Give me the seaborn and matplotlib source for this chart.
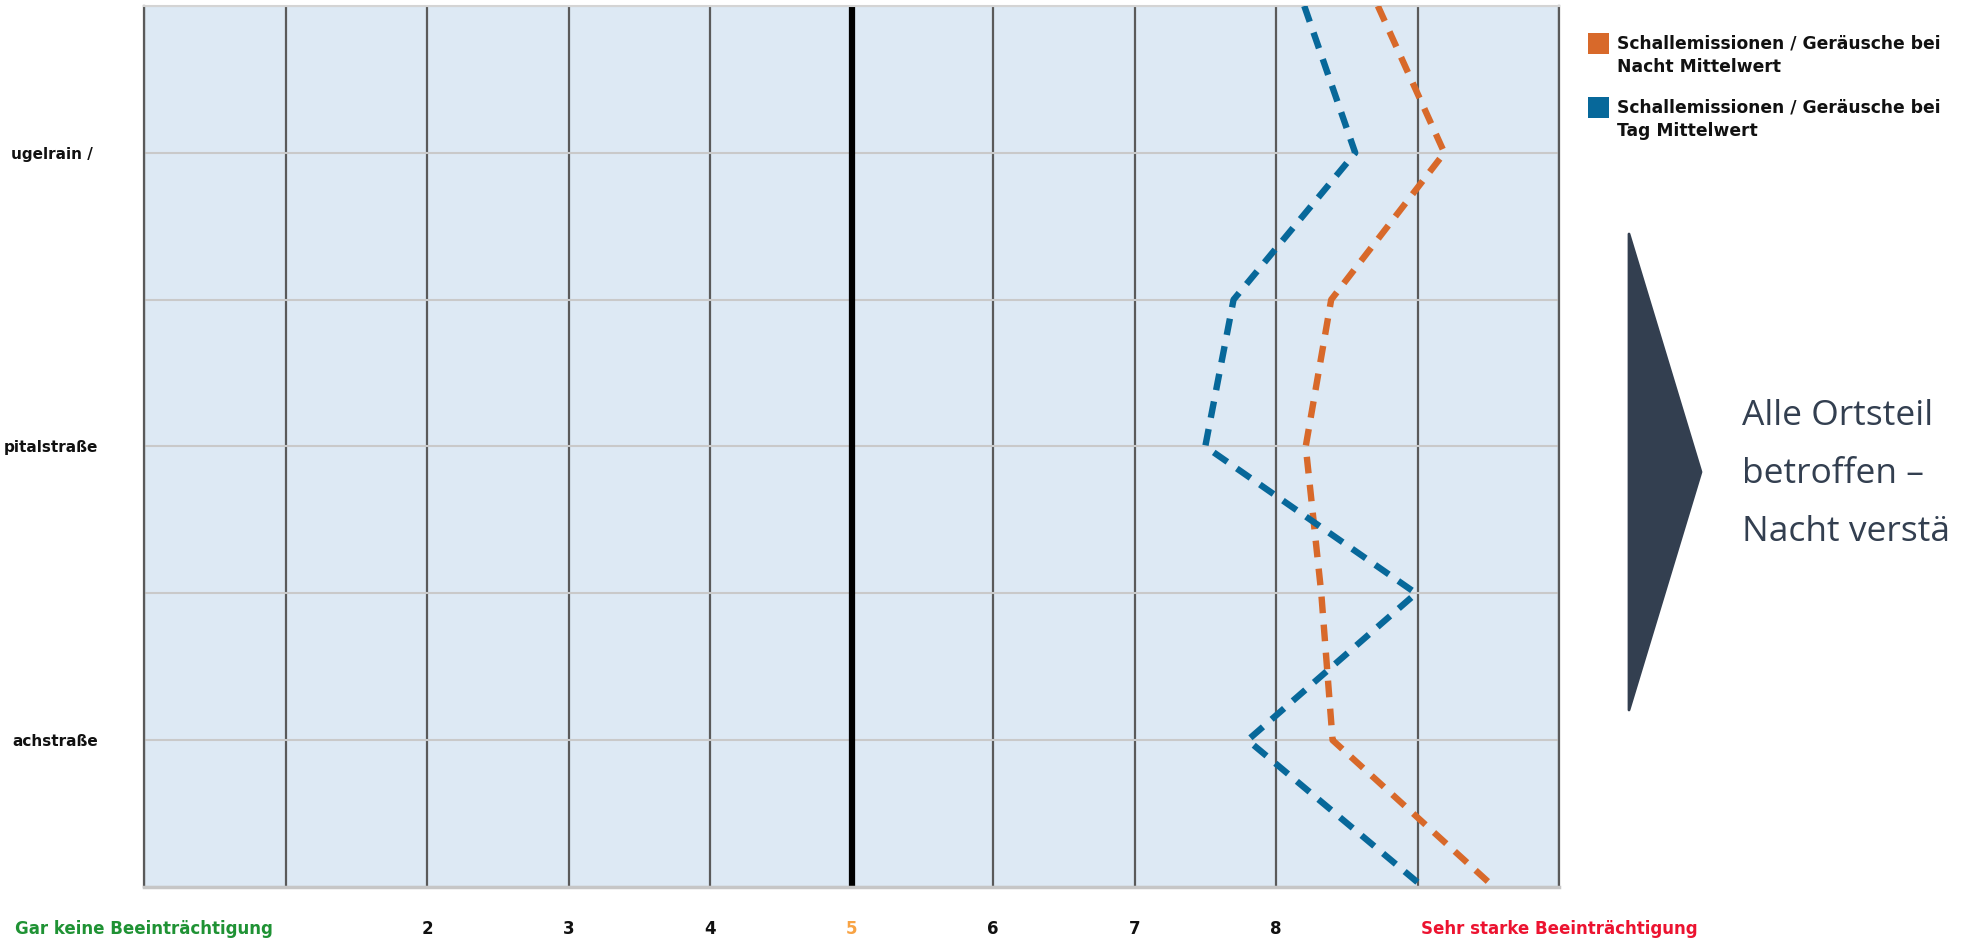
import matplotlib
matplotlib.use("Agg")
import matplotlib.pyplot as plt
import seaborn as sns
import pandas as pd
from matplotlib.patches import Polygon, Rectangle

# ---- data ----
categories = ["", "ugelrain / ", "", "pitalstraße", "", "achstraße", ""]
nacht_values = [8.72, 9.19, 8.39, 8.21, 8.32, 8.40, 9.54]
tag_values = [8.20, 8.56, 7.70, 7.50, 8.99, 7.80, 9.04]
series_names = ["Schallemissionen / Geräusche bei\nNacht Mittelwert",
                "Schallemissionen / Geräusche bei\nTag Mittelwert"]
x_tick_values = [0, 2, 3, 4, 5, 6, 7, 8, 10]
x_tick_labels = ["Gar keine Beeinträchtigung", "2", "3", "4", "5", "6", "7", "8",
                 "Sehr starke Beeinträchtigung"]
x_tick_colors = ["#1f9234", "#111111", "#111111", "#111111", "#f8a344", "#111111",
                 "#111111", "#111111", "#ec1330"]
side_lines = ["Alle Ortsteil", "betroffen –", "Nacht verstä"]

colors = ["#d8692a", "#07689a"]

sns.set_style("white")
plt.rcParams["font.family"] = ["DejaVu Sans"]

W, H = 1964, 939
fig = plt.figure(figsize=(W / 100, H / 100), dpi=100)
ax = fig.add_axes([144 / W, 1 - 887 / H, (1559 - 144) / W, (887 - 6) / H])
ax.set_facecolor("#dde9f4")

pos = list(range(len(categories)))
df = pd.DataFrame({
    "Wert": nacht_values + tag_values,
    "pos": pos + pos,
    "Serie": [series_names[0]] * len(pos) + [series_names[1]] * len(pos),
})

sns.lineplot(data=df, x="Wert", y="pos", hue="Serie", palette=colors,
             hue_order=series_names, sort=False, orient="y", estimator=None,
             legend=False, linewidth=4.6, ax=ax, zorder=5,
             linestyle=(0, (2.6, 1.8)), dash_capstyle="butt")

ax.set_xlim(0, 10)
ax.set_ylim(len(categories) - 1, 0)

# grids
ax.set_xticks(x_tick_values)
ax.set_xticklabels(x_tick_labels)
ax.set_xticks(range(11), minor=True)
ax.grid(which="both", axis="x", color="#5a5a5a", linewidth=1.6, zorder=1)
ax.axvline(5, color="black", linewidth=4.5, zorder=2)

ax.set_yticks(pos)
ax.set_yticklabels(categories)
ax.grid(which="major", axis="y", color="#c9c9c9", linewidth=1.5, zorder=1)
ax.set_axisbelow(True)

ax.tick_params(axis="both", which="both", length=0)
ax.tick_params(axis="x", pad=24)
ax.tick_params(axis="y", pad=33)
for lbl, c in zip(ax.get_xticklabels(), x_tick_colors):
    lbl.set_color(c)
    lbl.set_fontweight("bold")
    lbl.set_fontsize(12)
for lbl in ax.get_yticklabels():
    lbl.set_fontweight("bold")
    lbl.set_fontsize(11)
    lbl.set_color("#111111")
ax.set_xlabel("")
ax.set_ylabel("")

for s in ["left", "right"]:
    ax.spines[s].set_color("#5a5a5a")
    ax.spines[s].set_linewidth(1.6)
ax.spines["top"].set_color("#d4d4d4")
ax.spines["top"].set_linewidth(1.5)
ax.spines["bottom"].set_color("#c6c6c6")
ax.spines["bottom"].set_linewidth(2.5)


def fx(px):
    return px / W


def fy(py):
    return 1 - py / H


# legend (manual, squares aligned with first text line)
for i, (name, c) in enumerate(zip(series_names, colors)):
    top = 33 + i * 64
    fig.add_artist(Rectangle((fx(1588), fy(top + 21)), 21 / W, 21 / H,
                             transform=fig.transFigure, facecolor=c,
                             edgecolor="none"))
    fig.text(fx(1617), fy(top + 2), name, ha="left", va="top", fontsize=12.3,
             fontweight="bold", color="#111111", linespacing=1.35)

# chevron
chev = Polygon([(fx(1629), fy(234)), (fx(1701), fy(472)), (fx(1629), fy(710))],
               closed=True, transform=fig.transFigure, facecolor="#333f50",
               edgecolor="#333f50", linewidth=2, joinstyle="round")
fig.add_artist(chev)

for i, line in enumerate(side_lines):
    fig.text(fx(1742), fy(425 + i * 58), line, ha="left", va="baseline",
             fontsize=25.5, color="#333f50", family=["Open Sans", "DejaVu Sans"])

fig.savefig("out.png", dpi=100)
